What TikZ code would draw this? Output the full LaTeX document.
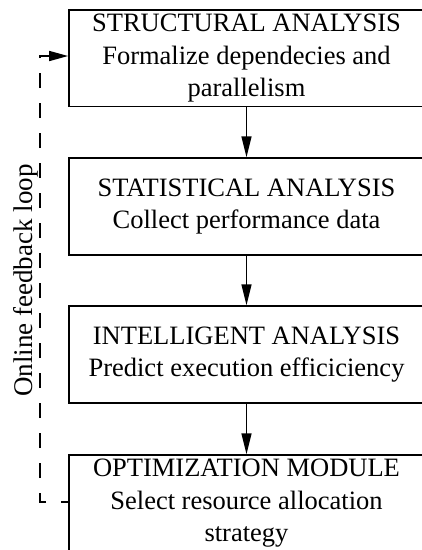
\documentclass[tikz,border=0pt]{standalone}
\usepackage{fontspec}
\setmainfont{Liberation Serif}
\usetikzlibrary{arrows.meta}
\begin{document}
\begin{tikzpicture}[x=1pt,y=-1pt,
  stage/.style={draw, line width=1.8pt, minimum width=355pt, minimum height=96.5pt,
    align=center, inner sep=0pt, font=\fontsize{26.5}{32.5}\selectfont},
  flow/.style={line width=1.5pt, -{Triangle[length=21pt,width=10pt]}},
  feedback/.style={line width=1.6pt, dash pattern=on 15pt off 15pt, dash phase=8pt,
    -{Triangle[length=19pt,width=10pt]}},
  looplabel/.style={rotate=90, anchor=base, inner sep=0pt, font=\fontsize{27}{32}\selectfont}
]
\clip (0,0) rectangle (422,550);

% the four stages of the pipeline
\node[stage] (s1) at (246.5,58.25) {STRUCTURAL ANALYSIS\\Formalize dependecies and\\parallelism};
\node[stage] (s2) at (246.5,206.5) {STATISTICAL ANALYSIS\\Collect performance data};
\node[stage] (s3) at (246.5,354.5) {INTELLIGENT ANALYSIS\\Predict execution efficiciency};
\node[stage] (s4) at (246.5,503.5) {OPTIMIZATION MODULE\\Select resource allocation\\strategy};

% forward flow
\draw[flow] (s1.south) -- (s2.north);
\draw[flow] (s2.south) -- (s3.north);
\draw[flow] (s3.south) -- (s4.north);

% feedback from the optimizer back to the first stage
\draw[feedback] ([yshift=1.5pt]s4.west) -- ++(-28,0) |- ([yshift=2.25pt]s1.west);
\node[looplabel] (loop) at (32,280.5) {Online feedback loop};
\end{tikzpicture}
\end{document}
